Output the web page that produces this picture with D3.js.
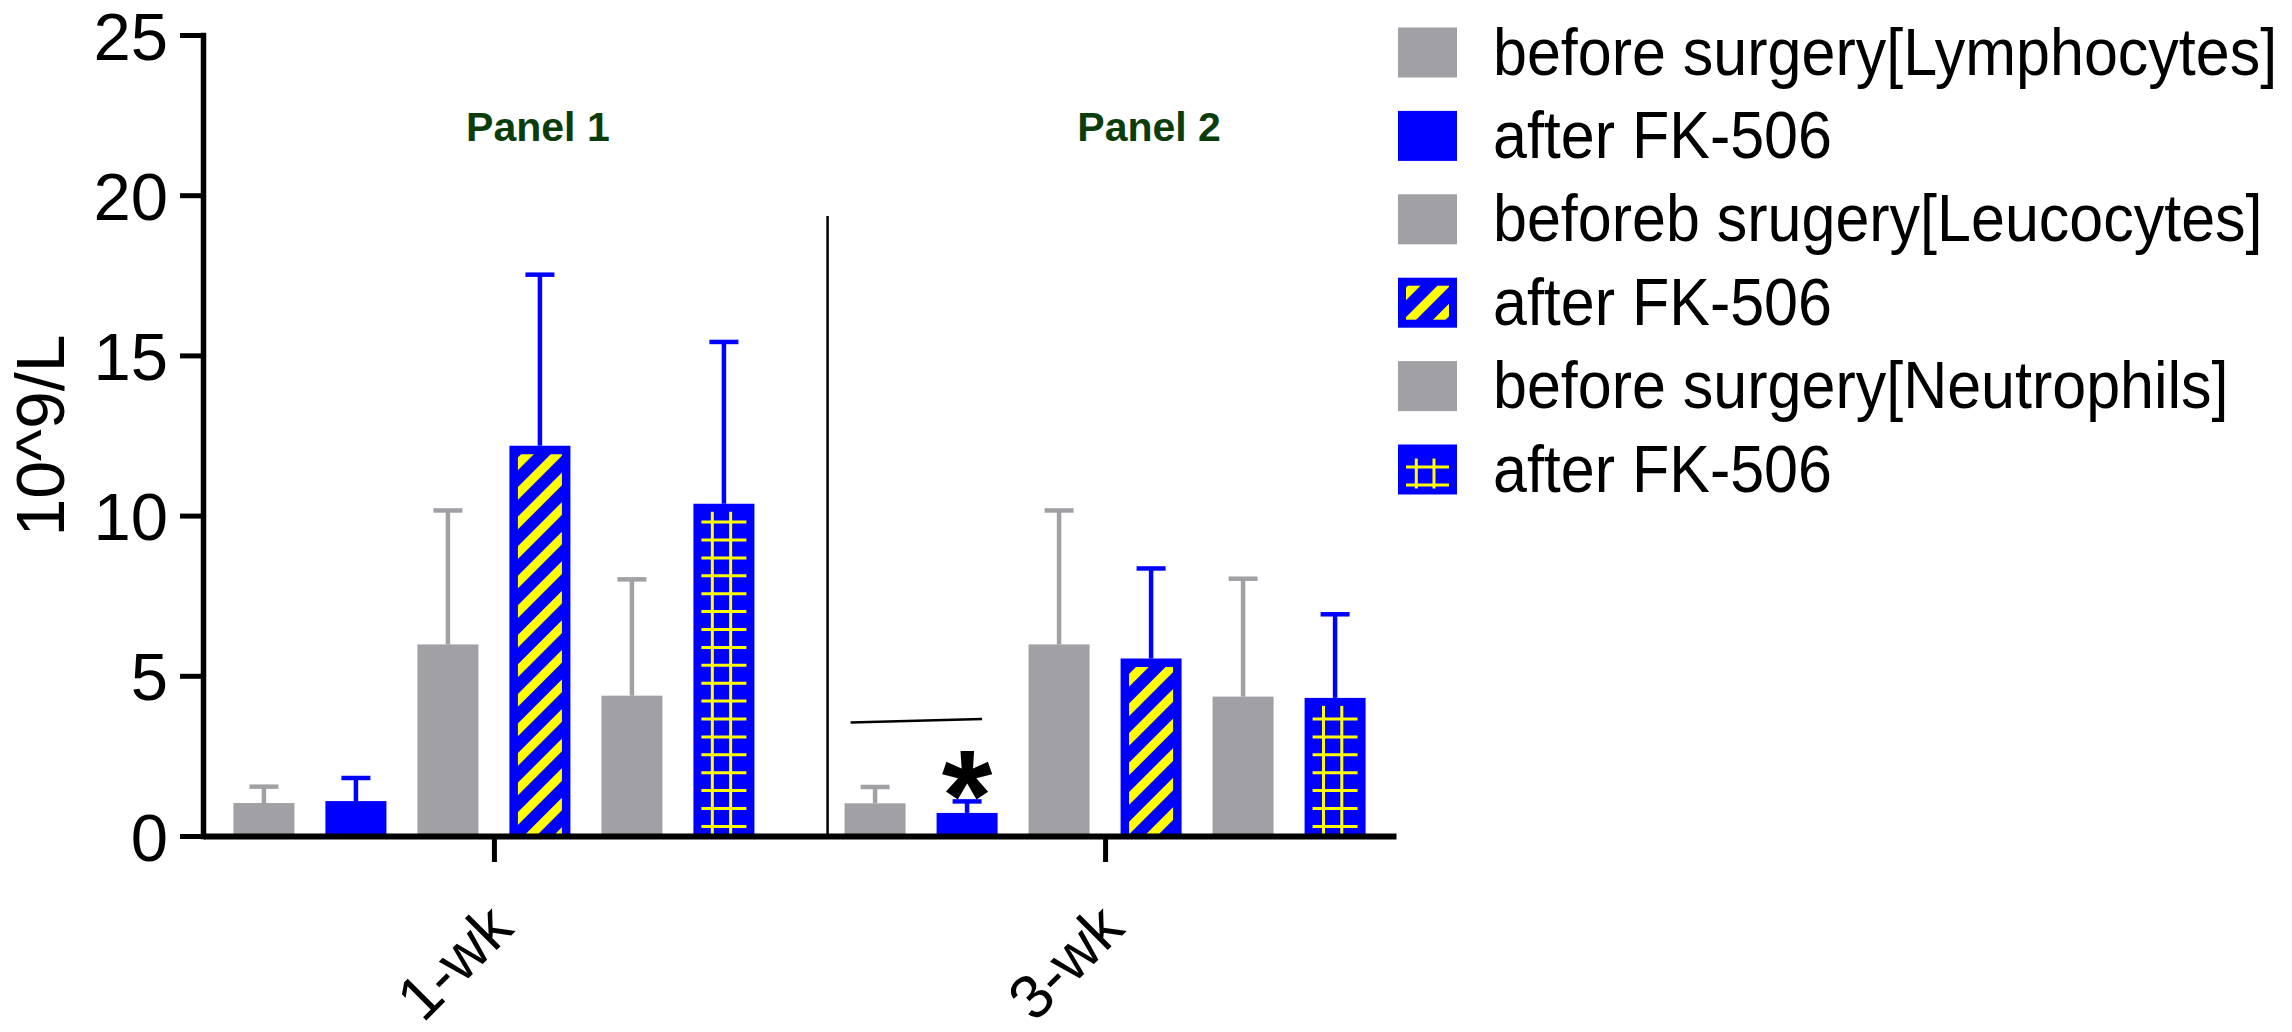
<!DOCTYPE html>
<html><head><meta charset="utf-8">
<script src="https://cdn.jsdelivr.net/npm/d3@7"></script>
<style>
html,body{margin:0;padding:0;background:#fff;}
svg{display:block;font-family:"Liberation Sans",Arial,Helvetica,sans-serif;}
</style></head><body>
<svg id="chart" width="2292" height="1032"></svg>
<script>
// ---------- data ----------
const groups = ["1-wk", "3-wk"];
const panelLabels = ["Panel 1", "Panel 2"];
const seriesNames = [
  "before surgery[Lymphocytes]",
  "after FK-506",
  "beforeb srugery[Leucocytes]",
  "after FK-506",
  "before surgery[Neutrophils]",
  "after FK-506"
];
const lymphBeforeMean  = [1.03, 1.02];
const lymphBeforeSD    = [0.51, 0.51];
const lymphAfterMean   = [1.09, 0.72];
const lymphAfterSD     = [0.72, 0.36];
const leucoBeforeMean  = [5.98, 5.98];
const leucoBeforeSD    = [4.18, 4.18];
const leucoAfterMean   = [12.18, 5.54];
const leucoAfterSD     = [5.34, 2.81];
const neutroBeforeMean = [4.38, 4.35];
const neutroBeforeSD   = [3.63, 3.68];
const neutroAfterMean  = [10.37, 4.31];
const neutroAfterSD    = [5.05, 2.61];
const yTicks = [0, 5, 10, 15, 20, 25];
const yLabel = "10^9/L";
const sigGroup = "3-wk";
const sigLineValues = [3.54, 3.65];
const sigMark = "*";
const sigMarkValue = 2.07;
const dividerTopValue = 19.35;

// ---------- styles ----------
const GRAY = "#a0a0a5", BLUE = "#0000ff", YEL = "#ffff00";
const seriesFill = [GRAY, BLUE, GRAY, BLUE, GRAY, BLUE];
const seriesPattern = [null, null, null, "hatch", null, "grid"];

const means = [lymphBeforeMean, lymphAfterMean, leucoBeforeMean, leucoAfterMean, neutroBeforeMean, neutroAfterMean];
const sds = [lymphBeforeSD, lymphAfterSD, leucoBeforeSD, leucoAfterSD, neutroBeforeSD, neutroAfterSD];

const svg = d3.select("#chart");
const defs = svg.append("defs");
const P = 20.9;
const pat = defs.append("pattern").attr("id", "hatch")
  .attr("patternUnits", "userSpaceOnUse").attr("width", P).attr("height", P)
  .attr("patternTransform", "rotate(45)");
pat.append("rect").attr("width", P).attr("height", P).attr("fill", BLUE);
pat.append("rect").attr("width", 9).attr("height", P).attr("fill", YEL);

// ---------- scales ----------
const y = d3.scaleLinear().domain([0, 25]).range([836, 35]);
const x0 = d3.scalePoint().domain(groups).range([203, 1396]).padding(0.476);
const x1 = d3.scaleBand().domain(d3.range(seriesNames.length)).range([-260.5, 260.5]).paddingInner(0.337).paddingOuter(0);
const bw = x1.bandwidth();
const base = y(0);

function drawGrid(sel, left, top, w, bottom, vTop, vBottom) {
  const hs = d3.range(bottom - 9.6, top + 12, -17.9);
  sel.selectAll(null).data(hs).join("line")
    .attr("x1", left + 8).attr("x2", left + w - 8)
    .attr("y1", d => d).attr("y2", d => d)
    .attr("stroke", YEL).attr("stroke-width", 3);
  sel.selectAll(null).data([0.31, 0.61]).join("line")
    .attr("x1", d => left + w * d).attr("x2", d => left + w * d)
    .attr("y1", top + vTop).attr("y2", bottom - vBottom)
    .attr("stroke", YEL).attr("stroke-width", 3);
}

// ---------- bars ----------
const bars = [];
groups.forEach((g, gi) => means.forEach((m, si) => bars.push({ g, si, v: m[gi], sd: sds[si][gi] })));

const barG = svg.append("g");
barG.selectAll("rect.bar").data(bars).join("rect").attr("class", "bar")
  .attr("x", d => x0(d.g) + x1(d.si)).attr("y", d => y(d.v))
  .attr("width", bw).attr("height", d => base - y(d.v))
  .attr("fill", d => seriesFill[d.si]);

barG.selectAll("rect.hatch").data(bars.filter(d => seriesPattern[d.si] === "hatch")).join("rect").attr("class", "hatch")
  .attr("x", d => x0(d.g) + x1(d.si) + 8.5).attr("y", d => y(d.v) + 8.5)
  .attr("width", bw - 17).attr("height", d => base - y(d.v) - 8.5)
  .attr("fill", "url(#hatch)");

bars.filter(d => seriesPattern[d.si] === "grid").forEach(d => {
  drawGrid(barG.append("g"), x0(d.g) + x1(d.si), y(d.v), bw, base, 8, 0);
});

// error bars (upper only)
const errG = svg.append("g");
errG.selectAll("line.stem").data(bars).join("line").attr("class", "stem")
  .attr("x1", d => x0(d.g) + x1(d.si) + bw / 2).attr("x2", d => x0(d.g) + x1(d.si) + bw / 2)
  .attr("y1", d => y(d.v)).attr("y2", d => y(d.v + d.sd))
  .attr("stroke", d => seriesFill[d.si]).attr("stroke-width", 4.5);
errG.selectAll("line.cap").data(bars).join("line").attr("class", "cap")
  .attr("x1", d => x0(d.g) + x1(d.si) + bw / 2 - 14.5).attr("x2", d => x0(d.g) + x1(d.si) + bw / 2 + 14.5)
  .attr("y1", d => y(d.v + d.sd)).attr("y2", d => y(d.v + d.sd))
  .attr("stroke", d => seriesFill[d.si]).attr("stroke-width", 4.5);

// divider between panels
const divX = x0(groups[1]) + x1(0) - 17;
svg.append("line").attr("x1", divX).attr("x2", divX)
  .attr("y1", y(dividerTopValue)).attr("y2", base)
  .attr("stroke", "#000").attr("stroke-width", 2.5);

// panel labels
svg.selectAll("text.panel").data(panelLabels).join("text").attr("class", "panel")
  .attr("x", (d, i) => x0(groups[i]) + 44).attr("y", y(21.7))
  .attr("text-anchor", "middle").attr("font-size", 41).attr("font-weight", "bold")
  .attr("fill", "#0b3d0b").text(d => d);

// significance annotation
const sx = x0(sigGroup);
svg.append("line")
  .attr("x1", sx + x1(0) + 6).attr("x2", sx + x1(1) + bw / 2 + 15)
  .attr("y1", y(sigLineValues[0])).attr("y2", y(sigLineValues[1]))
  .attr("stroke", "#000").attr("stroke-width", 2.5);
svg.append("text").attr("x", sx + x1(1) + bw / 2).attr("y", y(sigMarkValue))
  .attr("dy", "0.55em").attr("text-anchor", "middle")
  .attr("font-size", 130).attr("font-weight", "bold").attr("fill", "#000").text(sigMark);

// ---------- axes ----------
const gY = svg.append("g").attr("transform", `translate(203,0)`)
  .call(d3.axisLeft(y).tickValues(yTicks).tickSize(23).tickPadding(12).tickSizeOuter(0));
gY.attr("font-size", 67).attr("font-family", null);
gY.select(".domain").attr("stroke-width", 5.5).attr("stroke-linecap", "square");
gY.selectAll(".tick line").attr("stroke-width", 5);
gY.selectAll(".tick text").attr("fill", "#000").attr("dy", "0.36em");

const gX = svg.append("g").attr("transform", `translate(0,${base})`)
  .call(d3.axisBottom(x0).tickSize(26).tickSizeOuter(0));
gX.attr("font-size", 62).attr("font-family", null);
gX.select(".domain").attr("stroke-width", 6);
gX.selectAll(".tick line").attr("stroke-width", 5);
gX.selectAll(".tick text").attr("fill", "#000")
  .attr("x", 0).attr("y", 0).attr("dy", "0.71em")
  .attr("text-anchor", "end")
  .attr("transform", "translate(-10,64) rotate(-45)");

// y label
svg.append("text").attr("transform", `translate(64,${(y(0) + y(25)) / 2}) rotate(-90)`)
  .attr("text-anchor", "middle").attr("font-size", 68).attr("fill", "#000").text(yLabel);

// ---------- legend ----------
const ly = d3.scaleLinear().domain([0, seriesNames.length - 1]).range([52.5, 469.5]);
const leg = svg.append("g").attr("transform", "translate(1398,0)");
seriesNames.forEach((name, i) => {
  const c = ly(i), top = c - 25, sw = 59, sh = 50;
  leg.append("rect").attr("x", 0).attr("y", top).attr("width", sw).attr("height", sh).attr("fill", seriesFill[i]);
  if (seriesPattern[i] === "hatch") {
    leg.append("rect").attr("x", 8).attr("y", top + 8).attr("width", sw - 16).attr("height", sh - 16).attr("fill", "url(#hatch)");
  } else if (seriesPattern[i] === "grid") {
    drawGrid(leg.append("g"), 0, top, sw, top + sh, 14, 6);
  }
  leg.append("g").attr("transform", `translate(95,${c + 22})`)
    .append("text").attr("font-size", 61).attr("fill", "#000")
    .attr("transform", "scale(1,1.08)").text(name);
});
</script>
</body></html>
